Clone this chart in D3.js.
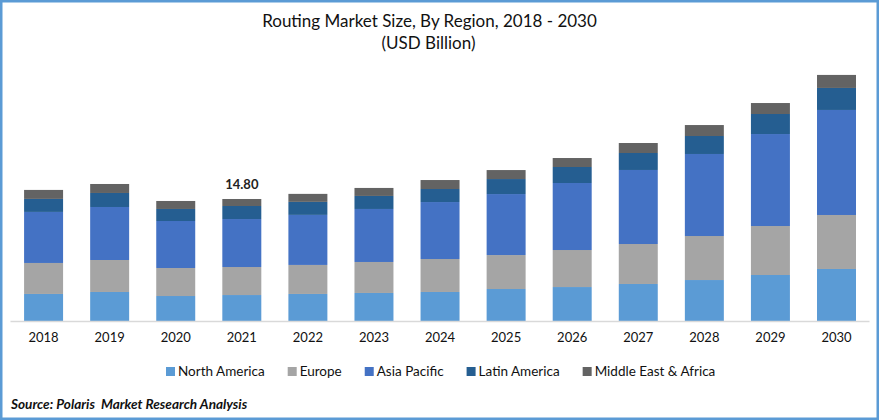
<!DOCTYPE html>
<html>
<head>
<meta charset="utf-8">
<script src="https://cdn.jsdelivr.net/npm/d3@7"></script>
<style>
  html, body { margin: 0; padding: 0; background: #fff; }
  svg { display: block; font-family: Lato, "Open Sans", sans-serif; }
</style>
</head>
<body>
<div id="chart"></div>
<script>
// values, USD billion
const years = ["2018", "2019", "2020", "2021", "2022", "2023", "2024", "2025", "2026", "2027", "2028", "2029", "2030"];
const regions = ["North America", "Europe", "Asia Pacific", "Latin America", "Middle East & Africa"];
const colors = ["#5b9bd5", "#a5a5a5", "#4472c4", "#255e91", "#636363"];

const northAmerica = [3.28, 3.52, 3.03, 3.15, 3.28, 3.40, 3.52, 3.88, 4.12, 4.49, 4.97, 5.58, 6.31];
const europe = [3.76, 3.88, 3.40, 3.40, 3.52, 3.76, 4.00, 4.12, 4.49, 4.85, 5.34, 5.94, 6.55];
const asiaPacific = [6.19, 6.43, 5.70, 5.82, 6.07, 6.43, 6.91, 7.40, 8.13, 8.98, 9.95, 11.16, 12.74];
const latinAmerica = [1.58, 1.70, 1.46, 1.58, 1.58, 1.58, 1.58, 1.82, 1.94, 2.06, 2.18, 2.43, 2.67];
const middleEast = [1.09, 1.09, 0.97, 0.85, 0.97, 0.97, 1.09, 1.09, 1.09, 1.21, 1.33, 1.33, 1.58];

const seriesValues = [northAmerica, europe, asiaPacific, latinAmerica, middleEast];

// only 2021 carries a total label
const labelYear = "2021";
const labelText = "14.80";

const width = 879, height = 420;
const plot = { left: 10, right: 869, top: 57.2, bottom: 321 };

const svg = d3.select("#chart").append("svg")
  .attr("width", width)
  .attr("height", height);

// frame
svg.append("rect")
  .attr("x", 1.25).attr("y", 1.25)
  .attr("width", width - 2.5).attr("height", height - 2.5)
  .attr("fill", "#fff")
  .attr("stroke", "#5b9bd5")
  .attr("stroke-width", 2.5);

// title
svg.append("text")
  .attr("x", 429.5).attr("y", 27)
  .attr("text-anchor", "middle")
  .attr("font-size", 17)
  .attr("fill", "#111")
  .text("Routing Market Size, By Region, 2018 - 2030");
svg.append("text")
  .attr("x", 428.5).attr("y", 49)
  .attr("text-anchor", "middle")
  .attr("font-size", 17)
  .attr("fill", "#111")
  .text("(USD Billion)");

// scales
const x = d3.scaleBand()
  .domain(years)
  .range([plot.left, plot.right])
  .paddingInner(0.41)
  .paddingOuter(0.205)
  .align(0.52);

const y = d3.scaleLinear()
  .domain([0, 32])
  .range([plot.bottom, plot.top]);

// stack the series
const rows = years.map((year, i) => {
  const row = { year };
  regions.forEach((r, j) => { row[r] = seriesValues[j][i]; });
  return row;
});
const stacked = d3.stack().keys(regions)(rows);

svg.append("g")
  .selectAll("g")
  .data(stacked)
  .join("g")
  .attr("fill", (d, i) => colors[i])
  .selectAll("rect")
  .data(d => d)
  .join("rect")
  .attr("x", d => x(d.data.year))
  .attr("y", d => y(d[1]))
  .attr("width", x.bandwidth())
  .attr("height", d => y(d[0]) - y(d[1]));

// x axis
const xAxis = svg.append("g")
  .attr("transform", `translate(0,${plot.bottom})`)
  .call(d3.axisBottom(x).tickSize(0).tickPadding(12));
xAxis.select(".domain").attr("stroke", "#d9d9d9").attr("stroke-width", 1.5);
xAxis.selectAll("text")
  .attr("font-size", 13)
  .attr("font-family", "Lato, 'Open Sans', sans-serif")
  .attr("fill", "#111");

// label above 2021
const labelTotal = d3.sum(seriesValues, s => s[years.indexOf(labelYear)]);
svg.append("text")
  .attr("x", x(labelYear) + x.bandwidth() / 2)
  .attr("y", y(labelTotal) - 10)
  .attr("text-anchor", "middle")
  .attr("font-size", 13)
  .attr("font-weight", 700)
  .attr("fill", "#222")
  .text(labelText);

// legend
const legend = svg.append("g").attr("transform", "translate(166,367)");
let legendX = 0;
regions.forEach((name, i) => {
  const item = legend.append("g").attr("transform", `translate(${legendX},0)`);
  item.append("rect").attr("width", 9).attr("height", 9).attr("fill", colors[i]);
  const label = item.append("text")
    .attr("x", 12).attr("y", 9)
    .attr("font-size", 13.5)
    .attr("fill", "#111")
    .text(name);
  legendX += 12 + label.node().getComputedTextLength() + 23;
});

// source note
svg.append("text")
  .attr("x", 11).attr("y", 409)
  .attr("font-size", 13.6)
  .attr("font-weight", 700)
  .attr("font-style", "italic")
  .attr("fill", "#111")
  .attr("xml:space", "preserve")
  .text("Source: Polaris  Market Research Analysis");
</script>
</body>
</html>
